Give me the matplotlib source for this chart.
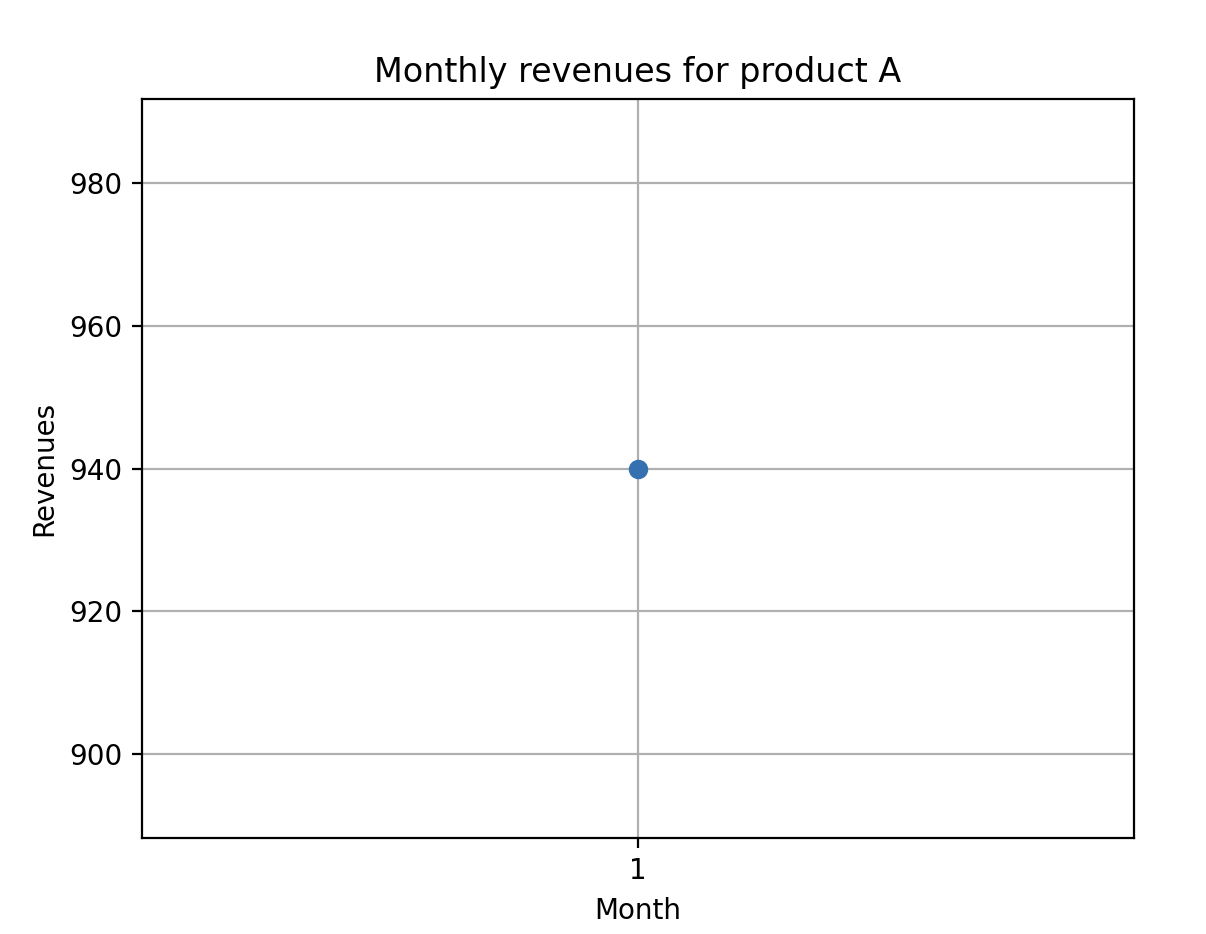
import matplotlib
matplotlib.use("Agg")
import matplotlib.pyplot as plt

months = [1]
revenues = [940]

W, H = 1206, 934
fig = plt.figure(figsize=(W / 200, H / 200), dpi=200)
ax = fig.add_axes([142 / W, 1 - 838 / H, (1134 - 142) / W, (838 - 99) / H])
ax.plot(months, revenues, marker='o', color='#3571b0')
ax.set_xticks(months)
ax.set_title('Monthly revenues for product A')
ax.set_xlabel('Month')
ax.set_ylabel('Revenues')
ax.grid(True)
fig.savefig('out.png', dpi=200)
